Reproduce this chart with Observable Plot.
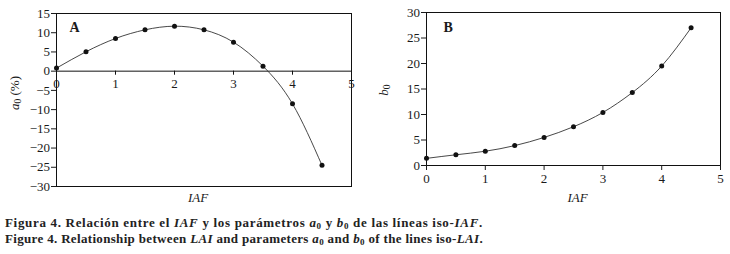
<!DOCTYPE html>
<html><head><meta charset="utf-8">
<script src="https://cdn.jsdelivr.net/npm/d3@7"></script>
<script src="https://cdn.jsdelivr.net/npm/@observablehq/plot@0.6"></script>
<style>
body{margin:0;background:#fff;}
#wrap{position:relative;width:730px;height:254px;overflow:hidden;background:#fff;}
#wrap svg{position:absolute;top:0;}
.cap{position:absolute;left:5px;font-family:"Liberation Serif","Times New Roman",serif;font-weight:bold;font-size:13px;white-space:nowrap;color:#222;line-height:16px;}
.cap sub{font-size:9px;vertical-align:-2px;line-height:0;}
</style></head><body><div id="wrap"></div>
<script>
const iaf = [0, 0.5, 1, 1.5, 2, 2.5, 3, 3.5, 4, 4.5];
const a0 = [0.8, 5.05, 8.5, 10.75, 11.7, 10.75, 7.55, 1.3, -8.5, -24.5];
const b0 = [1.4, 2.1, 2.8, 3.9, 5.5, 7.6, 10.4, 14.3, 19.5, 27.0];
const xTicks = [0, 1, 2, 3, 4, 5];
const aTicks = [-30, -25, -20, -15, -10, -5, 0, 5, 10, 15];
const bTicks = [0, 5, 10, 15, 20, 25, 30];
const xLabel = "IAF";

const font = "'Liberation Serif','Times New Roman',serif";
const style = `font-family:${font};font-size:13px;color:#1a1a1a;background:transparent;overflow:visible;`;
const dataA = iaf.map((x, i) => ({x, y: a0[i]}));
const dataB = iaf.map((x, i) => ({x, y: b0[i]}));

const plotA = Plot.plot({
  width: 365, height: 210,
  marginLeft: 56, marginRight: 14, marginTop: 13, marginBottom: 24,
  x: {domain: [0, 5], axis: null},
  y: {domain: [-30, 15]},
  style,
  marks: [
    Plot.frame({stroke: "#111", strokeWidth: 1}),
    Plot.axisY(aTicks, {tickSize: 5, tickPadding: 1.5, label: null, fontSize: 13, fontFamily: font}),
    Plot.ruleY([0], {stroke: "#111"}),
    Plot.ruleX(xTicks, {x: d => d, y1: 0, y2: -1.05, stroke: "#111"}),
    Plot.text(xTicks, {x: d => d, y: 0, dy: 12.5, text: d => String(d), lineAnchor: "middle", fontSize: 13, fontFamily: font}),
    Plot.line(dataA, {x: "x", y: "y", curve: "natural", stroke: "#333", strokeWidth: 0.9}),
    Plot.dot(dataA, {x: "x", y: "y", r: 2.5, fill: "#111", stroke: "none"}),
    Plot.text([xLabel], {text: d => d, frameAnchor: "bottom", dy: 11, dx: -6, lineAnchor: "middle", fontStyle: "italic", fontSize: 13, fontFamily: font}),
    Plot.text(["A"], {text: d => d, frameAnchor: "top-left", dx: 13, dy: 14, lineAnchor: "middle", textAnchor: "start", fontWeight: "bold", fontSize: 14, fontFamily: font})
  ]
});

const plotB = Plot.plot({
  width: 365, height: 210,
  marginLeft: 61, marginRight: 10, marginTop: 12, marginBottom: 45,
  x: {domain: [0, 5]},
  y: {domain: [0, 30]},
  style,
  marks: [
    Plot.frame({stroke: "#111", strokeWidth: 1}),
    Plot.axisX(xTicks, {tickSize: 5, tickPadding: 3, label: null, fontSize: 13, fontFamily: font}),
    Plot.axisY(bTicks, {tickSize: 5, tickPadding: 1.5, label: null, fontSize: 13, fontFamily: font}),
    Plot.line(dataB, {x: "x", y: "y", curve: "natural", stroke: "#333", strokeWidth: 0.9}),
    Plot.dot(dataB, {x: "x", y: "y", r: 2.5, fill: "#111", stroke: "none"}),
    Plot.text([xLabel], {text: d => d, frameAnchor: "bottom", dy: 32, dx: 4, lineAnchor: "middle", fontStyle: "italic", fontSize: 13, fontFamily: font}),
    Plot.text(["B"], {text: d => d, frameAnchor: "top-left", dx: 17, dy: 15, lineAnchor: "middle", textAnchor: "start", fontWeight: "bold", fontSize: 14, fontFamily: font})
  ]
});

function yLabel(svg, cx, cy, letter, rest) {
  const t = d3.select(svg).append("text")
    .attr("transform", `translate(${cx},${cy}) rotate(-90)`)
    .attr("text-anchor", "middle").attr("dominant-baseline", "middle")
    .attr("font-family", font).attr("font-size", 13).attr("fill", "#1a1a1a");
  t.append("tspan").attr("font-style", "italic").text(letter);
  t.append("tspan").attr("font-size", 9.5).attr("dy", 3).text("0");
  if (rest) t.append("tspan").attr("dy", -3).text(rest);
}
yLabel(plotA, 16, 93, "a", " (%)");
yLabel(plotB, 20, 90, "b", null);

const wrap = document.getElementById("wrap");
plotA.style.left = "0px";
plotB.style.left = "365px";
wrap.appendChild(plotA);
wrap.appendChild(plotB);

const c1 = document.createElement("div");
c1.className = "cap"; c1.style.top = "215px"; c1.style.letterSpacing = "0.68px";
c1.innerHTML = "Figura 4. Relación entre el <i>IAF</i> y los parámetros <i>a</i><sub>0</sub> y <i>b</i><sub>0</sub> de las líneas iso-<i>IAF</i>.";
const c2 = document.createElement("div");
c2.className = "cap"; c2.style.top = "231px"; c2.style.letterSpacing = "0.33px";
c2.innerHTML = "Figure 4. Relationship between <i>LAI</i> and parameters <i>a</i><sub>0</sub> and <i>b</i><sub>0</sub> of the lines iso-<i>LAI</i>.";
wrap.appendChild(c1); wrap.appendChild(c2);
</script></body></html>
